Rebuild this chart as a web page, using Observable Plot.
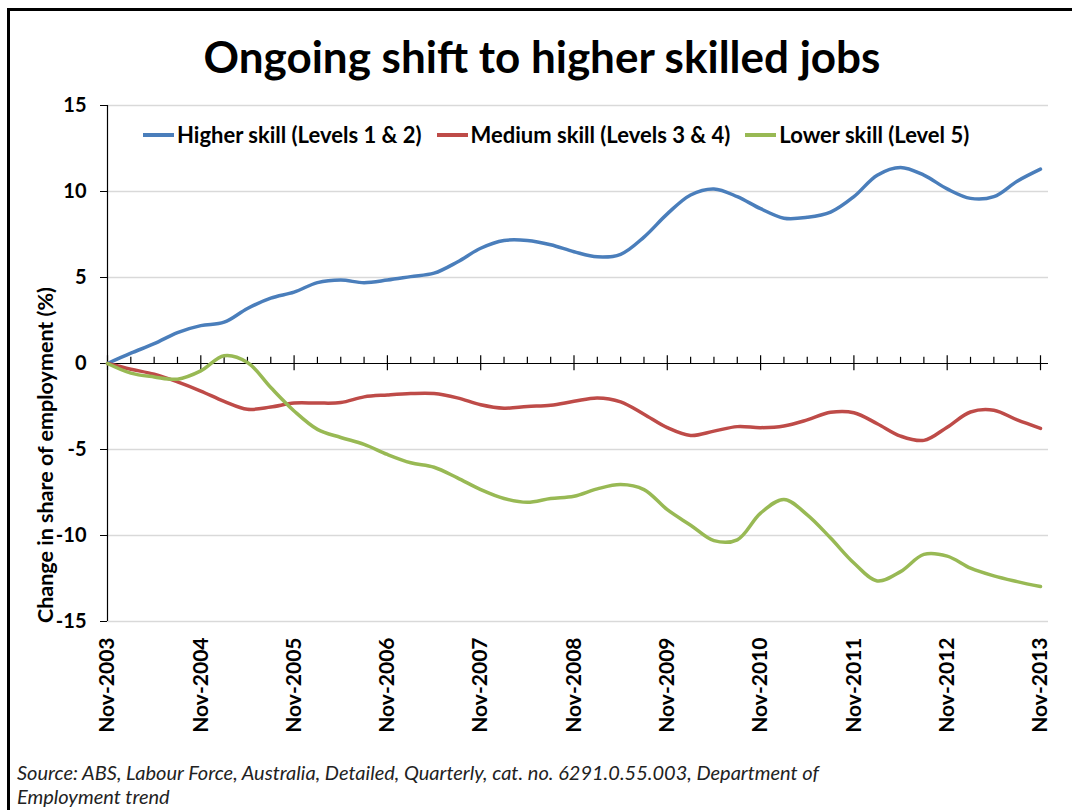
<!DOCTYPE html>
<html>
<head>
<meta charset="utf-8">
<script src="https://cdn.jsdelivr.net/npm/d3@7"></script>
<script src="https://cdn.jsdelivr.net/npm/@observablehq/plot@0.6"></script>
<style>
  html, body { margin: 0; padding: 0; background: #fff; }
  body { width: 1072px; height: 810px; position: relative; overflow: hidden; font-family: Lato, "Open Sans", sans-serif; }
  #frame { position: absolute; left: 7px; top: 8px; width: 1100px; height: 900px; border-top: 3px solid #000; border-left: 3px solid #000; }
  #title { position: absolute; left: 0; width: 1084px; top: 30px; text-align: center; font-size: 44px; line-height: 1.2; font-weight: bold; color: #000; }
  #chart { position: absolute; left: 0; top: 90px; }
  #ylabel { position: absolute; left: 45px; top: 455px; transform: translate(-50%, -50%) rotate(-90deg); white-space: nowrap; font-size: 21.5px; font-weight: bold; color: #000; }
  #legend { position: absolute; left: 143px; top: 116px; font-size: 22px; line-height: 26px; font-weight: bold; color: #000; white-space: nowrap; }
  #legend span.item { display: inline-flex; align-items: center; margin-right: 15px; }
  #legend span.sw { display: inline-block; width: 31px; height: 4px; margin-right: 3px; }
  #caption { position: absolute; left: 17px; top: 760px; font-size: 20px; font-style: italic; color: #222; line-height: 24px; white-space: nowrap; }
</style>
</head>
<body>
<div id="frame"></div>
<div id="title">Ongoing shift to higher skilled jobs</div>
<div id="chart"></div>
<div id="ylabel">Change in share of employment (%)</div>
<div id="legend"></div>
<div id="caption">Source: ABS, Labour Force, Australia, Detailed, Quarterly, cat. no. 6291.0.55.003, Department of<br>Employment trend</div>
<script>
// Quarterly observations, Nov-2003 .. Nov-2013 (41 quarters)
const yearLabels = ["Nov-2003","Nov-2004","Nov-2005","Nov-2006","Nov-2007","Nov-2008","Nov-2009","Nov-2010","Nov-2011","Nov-2012","Nov-2013"];
const seriesNames = ["Higher skill (Levels 1 & 2)", "Medium skill (Levels 3 & 4)", "Lower skill (Level 5)"];
const seriesColors = ["#4A7EBB", "#BE4B48", "#98B954"];
const higher = [0, 0.6, 1.15, 1.8, 2.2, 2.4, 3.2, 3.8, 4.15, 4.7, 4.85,
  4.7, 4.85, 5.05, 5.25, 5.9, 6.7, 7.15, 7.15, 6.9, 6.5,
  6.2, 6.35, 7.35, 8.7, 9.8, 10.15, 9.7, 9.0, 8.45, 8.5,
  8.8, 9.7, 10.95, 11.4, 10.95, 10.15, 9.6, 9.7, 10.6, 11.3];
const medium = [0, -0.33, -0.62, -1.07, -1.6, -2.2, -2.66, -2.53, -2.3, -2.3, -2.27,
  -1.94, -1.83, -1.75, -1.75, -2.0, -2.4, -2.6, -2.5, -2.43, -2.2,
  -2.0, -2.23, -2.95, -3.73, -4.18, -3.93, -3.67, -3.73, -3.63, -3.28,
  -2.84, -2.86, -3.5, -4.22, -4.47, -3.7, -2.82, -2.72, -3.28, -3.77];
const lower = [0, -0.56, -0.78, -0.91, -0.43, 0.45, 0.06, -1.4, -2.76, -3.83, -4.3,
  -4.7, -5.29, -5.77, -6.03, -6.65, -7.33, -7.85, -8.07, -7.85, -7.72,
  -7.29, -7.04, -7.33, -8.5, -9.4, -10.3, -10.25, -8.7, -7.9, -8.8,
  -10.15, -11.6, -12.64, -12.1, -11.1, -11.2, -11.9, -12.35, -12.68, -12.97];
const yTicks = [-15, -10, -5, 0, 5, 10, 15];
const gridValues = [-15, -10, -5, 5, 10, 15];

const allSeries = [higher, medium, lower];
const rows = [];
allSeries.forEach((vals, s) => vals.forEach((v, i) => rows.push({q: i, value: v, series: seriesNames[s]})));
const nQ = higher.length;
const majorQ = yearLabels.map((_, k) => k * 4);
const minorQ = d3.range(nQ).filter(q => q % 4 !== 0);

const plot = Plot.plot({
  width: 1072,
  height: 651,
  marginTop: 15,
  marginBottom: 120,
  marginLeft: 107,
  marginRight: 24,
  style: {fontFamily: "Lato, 'Open Sans', sans-serif", fontSize: "20px", fontWeight: "bold", color: "#000", background: "transparent"},
  x: {domain: [0, nQ - 1], range: [107, 1040]},
  y: {domain: [-15, 15]},
  color: {domain: seriesNames, range: seriesColors},
  marks: [
    Plot.ruleY(gridValues, {stroke: "#d9d9d9", strokeWidth: 1.3}),
    Plot.ruleX([0], {y1: -15, y2: 15, stroke: "#000", strokeWidth: 1.2}),
    Plot.axisY({ticks: yTicks, tickFormat: d => String(d), tickSize: 7, tickPadding: 14, label: null, stroke: "#000", fontWeight: "bold", fontSize: 20}),
    Plot.axisX({ticks: majorQ, tickFormat: q => yearLabels[q / 4], tickRotate: -90, tickSize: 0, tickPadding: 16, label: null, fontWeight: "bold", fontSize: 21}),
    Plot.ruleY([0], {stroke: "#000", strokeWidth: 1.2}),
    Plot.ruleX(majorQ, {y1: -0.42, y2: 0.45, stroke: "#000", strokeWidth: 1.2}),
    Plot.ruleX(minorQ, {y1: 0, y2: 0.36, stroke: "#000", strokeWidth: 1.2}),
    Plot.line(rows, {x: "q", y: "value", z: "series", stroke: "series", strokeWidth: 3.5, curve: "catmull-rom"})
  ]
});
document.getElementById("chart").appendChild(plot);

const legend = document.getElementById("legend");
seriesNames.forEach((name, i) => {
  const item = document.createElement("span");
  item.className = "item";
  const sw = document.createElement("span");
  sw.className = "sw";
  sw.style.background = seriesColors[i];
  item.appendChild(sw);
  item.appendChild(document.createTextNode(name));
  legend.appendChild(item);
});
</script>
</body>
</html>
